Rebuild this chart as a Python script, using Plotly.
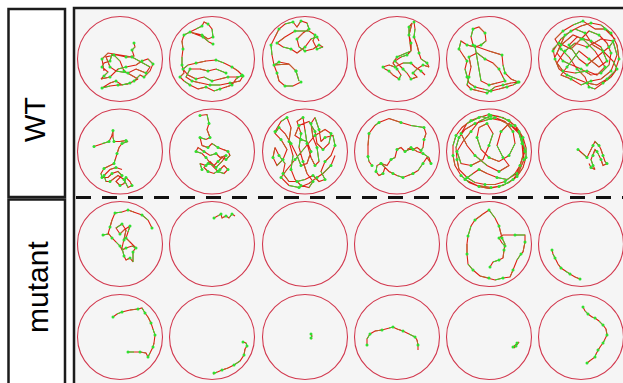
import plotly.graph_objects as go

# ---- well grid (column / row centres in page pixels) ----
col_x = [120, 212, 305, 397, 489, 581]
row_y = [59, 151.5, 244, 337]
well_r = 42.5
group_labels = ["WT", "mutant"]

# ---- trajectories, offsets (dx, dy) in pixels from well centre ----
WT_A1 = [(14,-16),(15,-12),(12,-9),(14,-3),(6,-2),(-8,-5),(-10,2),(-16,4),(-18,8),(-12,13),(-16,17),(-19,20),(-10,18),(-2,10),(6,8),(16,6),(22,2),(28,0),(33,5),(30,12),(24,18),(20,16),(14,22),(8,25),(-2,26),(-10,27),(-18,29),(-10,24),(-4,22),(2,26),(10,24),(18,20),(4,12),(0,2),(-6,-4),(-14,-2),(-10,8),(-4,12),(8,14),(16,10),(26,14),(30,8),(12,-2),(-12,-6),(-18,0),(-16,12)]
WT_A2 = [(1,-15),(-3,-17),(-9,-22),(-16,-25),(-22,-27),(-16,-30),(-10,-33),(-8,-37),(-4,-35),(0,-30),(1,-22),(-4,-20),(-10,-24),(-22,-27),(-28,-24),(-30,-18),(-29,-10),(-30,-2),(-30,6),(-28,14),(-32,18),(-28,22),(-22,26),(-14,30),(-6,28),(2,32),(8,30),(14,28),(20,26),(24,20),(30,16),(26,12),(20,8),(12,4),(4,1),(-6,2),(-16,4),(-24,6),(-29,10),(-24,16),(-16,20),(-8,18),(0,22),(8,20),(16,18),(24,18),(31,17),(28,22),(18,24),(8,26),(-2,26),(-12,24),(-20,22),(-26,18),(-22,10),(-12,10),(-4,12),(4,10),(14,14)]
WT_A3 = [(-4,23),(-12,27),(-20,27),(-26,22),(-28,14),(-31,6),(-26,3),(-16,5),(-9,12),(-6,22),(-9,12),(-16,5),(-31,6),(-33,-4),(-34,-14),(-30,-22),(-26,-30),(-20,-35),(-12,-37),(-8,-32),(-4,-38),(2,-36),(4,-30),(-2,-26),(-8,-20),(-6,-12),(0,-8),(8,-10),(14,-14),(18,-12),(12,-10),(8,-18),(10,-24),(4,-28),(-10,-28),(-20,-22),(-28,-16),(-22,-12),(-14,-10),(-8,-6),(0,-12),(6,-20),(12,-22),(14,-18)]
WT_A4 = [(17,-37),(18,-30),(17,-22),(20,-14),(22,-6),(24,0),(30,4),(32,8),(26,6),(20,10),(16,14),(20,18),(14,20),(10,14),(6,10),(2,6),(-2,2),(4,-2),(10,-4),(14,-8),(14,-16),(12,-24),(12,-32),(15,-36),(12,-24),(14,-8),(0,-2),(-4,4),(0,10),(4,16),(2,20),(-4,16),(-8,12),(-12,10),(-14,8),(-8,6),(-2,8),(6,4),(14,4),(18,8),(24,12),(28,16)]
WT_A5 = [(-16,-14),(-18,-22),(-16,-30),(-10,-32),(-4,-26),(-3,-18),(-8,-14),(-14,-12),(-22,-14),(-28,-18),(-30,-10),(-26,-4),(-22,2),(-24,10),(-22,18),(-20,24),(-14,28),(-6,30),(2,32),(10,30),(18,28),(24,26),(30,23),(22,24),(14,26),(6,28),(-2,34),(-10,32),(-18,30),(-22,26),(-20,18),(-18,8),(-20,-2),(-12,-6),(-4,0),(4,4),(10,10),(14,18),(16,22),(8,24),(0,26),(-8,22),(-14,-13),(0,-8),(13,-4),(14,6),(16,14),(22,20),(29,23)]
WT_A6 = [(-28,-8),(-20,-20),(-10,-28),(0,-33),(10,-36),(20,-34),(30,-26),(36,-14),(38,0),(34,12),(26,20),(16,26),(6,24),(-4,20),(-14,16),(-22,10),(-26,0),(-28,-10),(-22,-16),(-10,-10),(0,-20),(8,-28),(18,-24),(26,-16),(30,-6),(28,6),(20,14),(10,16),(0,10),(-10,6),(-18,2),(-24,-6),(-16,-24),(-6,-30),(4,-26),(12,-14),(22,-8),(32,2),(36,10),(30,18),(22,24),(14,30),(8,28),(4,18),(-4,10),(-12,-2),(-20,-10),(-26,-20),(-18,-28),(-8,-34),(2,-38),(14,-30),(24,-30),(34,-20),(28,-12),(16,-2),(6,6),(-2,0),(-12,-14),(-4,-22),(10,-18),(20,-12),(26,2),(18,8),(8,0),(-2,-8),(-14,8),(-20,16),(-10,20),(0,26),(10,22),(20,20),(30,12),(36,-4),(32,-18),(20,-20),(6,-12),(-6,-16),(-16,-8),(-24,4),(-18,12),(-6,14),(6,12),(16,16),(24,8),(14,-8),(2,-20),(-8,-24),(-20,-14),(-26,-2)]
WT_B1 = [(-26,-5),(-18,-8),(-11,-10),(-8,-16),(-7,-21),(-7,-14),(-6,-10),(0,-10),(6,-11),(8,-10),(2,-8),(-1,-4),(-3,2),(-5,8),(-6,12),(-10,14),(-16,17),(-19,22),(-18,26),(-12,26),(-8,22),(-2,20),(2,24),(-4,30),(0,34),(4,32),(6,26),(10,30),(12,34),(8,36),(4,28),(-2,24),(-10,30),(-14,30),(-16,24),(-10,18),(-4,16),(2,18)]
WT_B2 = [(-12,-36),(-5,-37),(-3,-28),(-5,-22),(-2,-14),(-6,-12),(-12,-14),(-10,-6),(-4,-4),(0,-8),(6,-4),(12,-2),(16,0),(18,4),(14,8),(10,6),(6,10),(2,14),(-4,12),(-8,16),(-4,20),(2,22),(8,18),(12,14),(16,18),(12,22),(6,20),(0,14),(-6,6),(-10,2),(-16,0),(-14,-4),(-8,0),(-2,4),(4,2),(8,6),(14,4),(10,10),(4,16),(-2,10),(-6,14),(-12,12),(-10,18)]
WT_B3 = [(-30,-20),(-24,-30),(-18,-34),(-14,-24),(-16,-10),(-12,4),(-14,18),(-10,28),(-4,34),(4,36),(8,30),(2,22),(-2,10),(-6,-4),(-4,-18),(-8,-30),(-2,-34),(0,-22),(2,-8),(6,6),(10,14),(14,10),(12,-4),(8,-14),(6,-28),(10,-34),(14,-22),(16,-10),(20,-14),(28,-16),(30,-6),(26,4),(20,10),(16,20),(20,28),(14,30),(8,24),(0,28),(-8,30),(-16,30),(-22,22),(-20,12),(-26,4),(-30,-4),(-32,6),(-28,14),(-22,8),(-18,-2),(-24,-12),(-30,-18),(-26,-24),(-20,-18),(-14,-8),(-8,4),(-4,14),(2,12),(6,0),(2,-10),(-4,-12),(-10,-16),(-6,-26),(4,-30),(10,-20),(12,-8),(18,-2),(24,-8),(26,-18),(20,-22),(10,-16),(0,-4),(-10,8),(-18,18),(-24,26),(-16,34),(-6,36),(4,32),(12,26),(18,22),(26,14),(30,4)]
WT_B4 = [(-25,14),(-28,10),(-29,5),(-29,-6),(-28,-18),(-22,-26),(-18,-29),(-8,-33),(4,-29),(14,-26),(27,-24),(29,-18),(27,-12),(26,-4),(24,-1),(20,-4),(16,-2),(12,-2),(8,0),(4,-4),(0,-2),(-2,6),(-6,8),(-10,14),(-16,12),(-20,14),(-21,20),(-18,24),(-14,22),(-12,16),(-16,12),(-8,20),(-4,22),(0,24),(6,26),(11,24),(16,22),(21,19),(26,12),(30,6),(34,12),(32,6),(26,2),(20,0),(14,-4),(10,-2)]
WT_B5 = [(0,-37),(10,-35),(20,-31),(28,-24),(34,-14),(37,-4),(37,6),(34,16),(28,25),(20,31),(10,35),(0,37),(-10,35),(-20,31),(-28,24),(-34,14),(-36,4),(-36,-6),(-33,-16),(-27,-24),(-18,-31),(-8,-35),(2,-33),(12,-31),(22,-26),(30,-18),(33,-8),(34,4),(31,14),(26,22),(16,30),(6,33),(-4,33),(-14,31),(-22,26),(-30,18),(-32,8),(-33,-4),(-30,-14),(-24,-22),(-14,-28),(-4,-31),(6,-34),(16,-30),(24,-20),(26,-8),(20,4),(10,10),(0,6),(-8,-2),(-12,-14),(-10,-24),(-2,-28),(4,-18),(0,-6),(-6,8),(-18,14),(-28,12),(-32,0),(-26,-10),(-18,-20),(-10,-30),(2,-36),(14,-34),(26,-26),(33,-14),(36,0),(32,12),(28,22),(18,28),(8,26),(-2,22),(-10,18),(-16,22),(-24,28),(-12,34),(2,36),(14,34),(24,28),(30,20),(35,8),(34,-6),(30,-20),(20,-28),(12,-20),(8,-6),(14,6),(20,14),(10,20),(-2,14),(-14,4),(-22,-6),(-28,-18),(-22,-28),(-10,-34),(0,-37)]
WT_B6 = [(-3,-2),(2,2),(6,6),(8,2),(12,-6),(14,-10),(18,-6),(20,-2),(22,4),(24,10),(26,12),(22,14),(20,8),(18,4),(16,0),(14,-2),(12,4),(10,8),(12,14),(14,18),(10,16),(8,12)]
MU_A1 = [(32,-16),(28,-24),(22,-29),(14,-32),(8,-34),(2,-32),(-5,-31),(-8,-24),(-10,-17),(-12,-10),(-17,-9),(-11,-10),(-8,-6),(-4,-2),(0,2),(2,6),(6,4),(12,2),(16,4),(10,-2),(6,-6),(8,-12),(10,-18),(4,-14),(0,-10),(-4,-16),(2,-20),(6,-14),(4,-4),(2,4),(4,12),(6,16),(10,14),(13,18),(13,8),(16,3)]
MU_A2 = [(2,-26),(6,-28),(9,-30),(10,-26),(14,-28),(17,-26),(20,-30),(23,-28)]
MU_A3 = []
MU_A4 = []
MU_A5 = [(1,23),(4,18),(10,16),(14,14),(15,6),(16,0),(13,-6),(12,-10),(10,-18),(6,-26),(0,-34),(-6,-30),(-14,-24),(-18,-18),(-21,-8),(-22,0),(-22,10),(-21,20),(-16,26),(-9,32),(0,34),(6,36),(14,34),(21,33),(24,26),(28,16),(32,10),(34,8),(36,-2),(36,-9),(26,-9),(14,-9),(10,-6),(13,-1),(16,2)]
MU_A6 = [(-29,6),(-28,10),(-26,14),(-23,20),(-20,24),(-16,27),(-11,30),(-6,33),(-1,35)]
MU_B1 = [(-7,-20),(-3,-23),(2,-25),(10,-27),(18,-28),(22,-29),(25,-24),(28,-20),(31,-14),(33,-8),(35,-2),(34,6),(33,10),(30,16),(28,20),(26,16),(20,15),(14,15),(8,15)]
MU_B2 = [(31,5),(34,6),(35,9),(33,12),(32,18),(28,24),(22,28),(16,31),(10,33),(5,35),(2,36),(1,37)]
MU_B3 = [(6,-3),(7,-1),(6,1),(7,2)]
MU_B4 = [(-30,8),(-30,2),(-27,-3),(-22,-6),(-15,-7),(-8,-9),(-4,-10),(0,-8),(6,-6),(12,-3),(18,0),(20,3),(21,8),(21,13)]
MU_B5 = [(24,10),(26,8),(28,6),(30,5),(27,9),(25,11)]
MU_B6 = [(2,-30),(4,-26),(7,-23),(11,-20),(14,-19),(18,-16),(22,-12),(25,-8),(26,-2),(24,3),(22,6),(19,10),(17,13),(15,17),(14,20),(10,23),(6,26)]

rows_tracks = [
    [WT_A1, WT_A2, WT_A3, WT_A4, WT_A5, WT_A6],
    [WT_B1, WT_B2, WT_B3, WT_B4, WT_B5, WT_B6],
    [MU_A1, MU_A2, MU_A3, MU_A4, MU_A5, MU_A6],
    [MU_B1, MU_B2, MU_B3, MU_B4, MU_B5, MU_B6],
]

RED = "#dc1e12"
BROWN = "#b8662a"
GREEN = "#2fe02f"
CIRCLE = "#d2394f"

rx, ry = [], []      # full red path
bx, by = [], []      # brownish sub-segments
gx, gy = [], []      # green sub-segments
mx, my = [], []      # green vertex dots
for r, row in enumerate(rows_tracks):
    for c, tr in enumerate(row):
        if not tr:
            continue
        cx, cy = col_x[c], row_y[r]
        pts = [(cx + dx, cy + dy) for dx, dy in tr]
        for x, y in pts:
            rx.append(x); ry.append(y)
        rx.append(None); ry.append(None)
        for i in range(len(pts) - 1):
            if i % 4 == 1:
                gx += [pts[i][0], pts[i + 1][0], None]
                gy += [pts[i][1], pts[i + 1][1], None]
            elif i % 4 == 3:
                bx += [pts[i][0], pts[i + 1][0], None]
                by += [pts[i][1], pts[i + 1][1], None]
        for i, (x, y) in enumerate(pts):
            if i % 2 == 0:
                mx.append(x); my.append(y)

fig = go.Figure()
fig.add_trace(go.Scatter(x=rx, y=ry, mode="lines", line=dict(color=RED, width=1.1),
                         hoverinfo="skip", showlegend=False))
fig.add_trace(go.Scatter(x=bx, y=by, mode="lines", line=dict(color=BROWN, width=1),
                         hoverinfo="skip", showlegend=False))
fig.add_trace(go.Scatter(x=gx, y=gy, mode="lines", line=dict(color=GREEN, width=1),
                         hoverinfo="skip", showlegend=False))
fig.add_trace(go.Scatter(x=mx, y=my, mode="markers", marker=dict(color=GREEN, size=3),
                         hoverinfo="skip", showlegend=False))

shapes = []
# right panel background
shapes.append(dict(type="rect", xref="x", yref="y", x0=74, y0=8, x1=640, y1=400,
                   fillcolor="#f5f5f5", line=dict(width=0), layer="below"))
# wells
for r in range(len(row_y)):
    for c in range(len(col_x)):
        shapes.append(dict(type="circle", xref="x", yref="y",
                           x0=col_x[c] - well_r, x1=col_x[c] + well_r,
                           y0=row_y[r] - well_r, y1=row_y[r] + well_r,
                           line=dict(color=CIRCLE, width=1.1), layer="below"))
# right panel border
shapes.append(dict(type="rect", xref="x", yref="y", x0=74, y0=8, x1=640, y1=400,
                   line=dict(color="#1c1c1c", width=2.5)))
# dashed separator
shapes.append(dict(type="line", xref="x", yref="y", x0=76, x1=623, y0=197.5, y1=197.5,
                   line=dict(color="#111111", width=3, dash="15px,11px")))
# label boxes
shapes.append(dict(type="rect", xref="x", yref="y", x0=8.5, y0=9, x1=65, y1=197,
                   line=dict(color="#1c1c1c", width=2.5)))
shapes.append(dict(type="rect", xref="x", yref="y", x0=8.5, y0=199.5, x1=65, y1=400,
                   line=dict(color="#1c1c1c", width=2.5)))

annotations = [
    dict(x=35, y=120, xref="x", yref="y", text=group_labels[0], textangle=-90,
         showarrow=False, font=dict(family="Liberation Sans, Arial", size=29, color="#000")),
    dict(x=37, y=287, xref="x", yref="y", text=group_labels[1], textangle=-90,
         showarrow=False, font=dict(family="Liberation Sans, Arial", size=30, color="#000")),
]

fig.update_layout(
    width=623, height=383, margin=dict(l=0, r=0, t=0, b=0),
    paper_bgcolor="white", plot_bgcolor="white",
    xaxis=dict(range=[0, 623], visible=False, fixedrange=True),
    yaxis=dict(range=[383, 0], visible=False, fixedrange=True),
    shapes=shapes, annotations=annotations,
)
fig.write_html("out.html", config={"displayModeBar": False},
               post_script="document.body.style.margin='0';document.body.style.overflow='hidden';")
